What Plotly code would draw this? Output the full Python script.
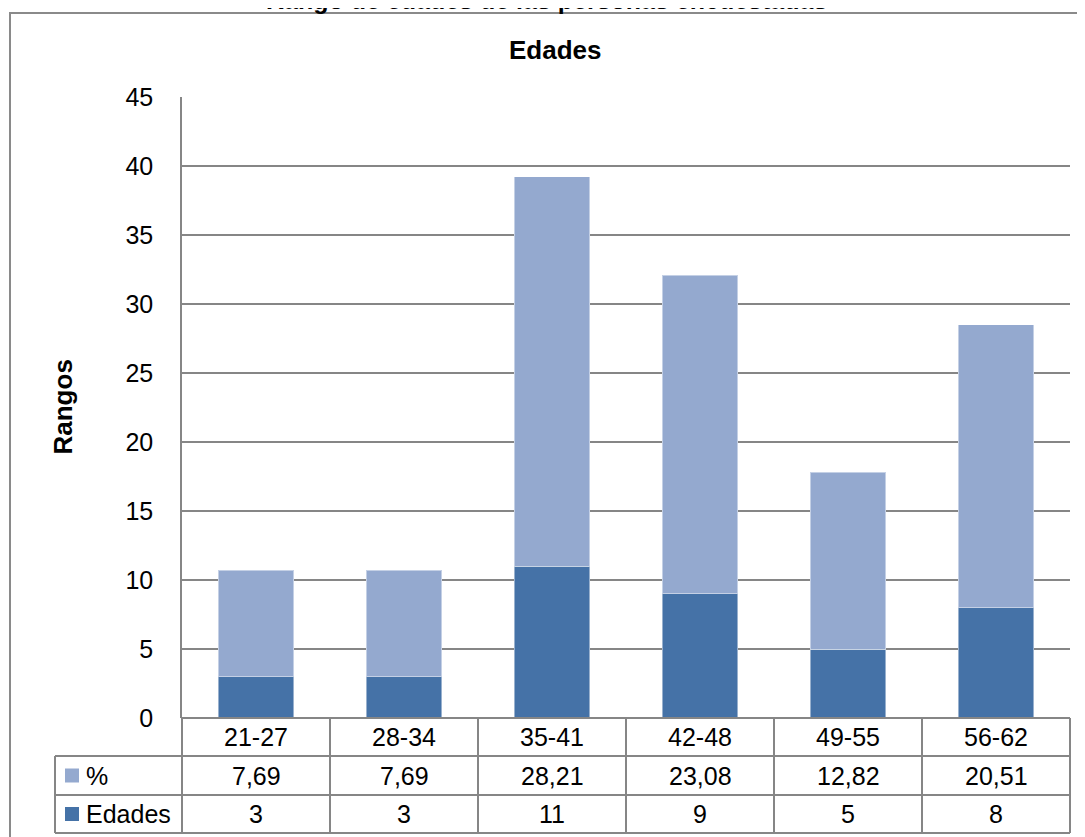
import plotly.graph_objects as go

categories = ["21-27", "28-34", "35-41", "42-48", "49-55", "56-62"]
edades = [3, 3, 11, 9, 5, 8]
pct = [7.69, 7.69, 28.21, 23.08, 12.82, 20.51]
y_ticks = [0, 5, 10, 15, 20, 25, 30, 35, 40, 45]

main_title = "Rango de edades de las personas encuestadas"
chart_title = "Edades"
y_title = "Rangos"
series_names = ["%", "Edades"]

W, H = 1085, 837
OX, OY = 8, 8  # page body offset
DARK = "#4572A7"
LIGHT = "#94A9CF"
GRID = "#868686"
FONT = "Liberation Sans, Arial, sans-serif"
FS = 25
FSB = 26


def px(x):
    return (x - OX) / W


def py(y):
    return 1 - (y - OY) / H


def fmt(v):
    return f"{v:.2f}".replace(".", ",")


fig = go.Figure()
fig.add_trace(go.Bar(x=categories, y=edades, name="Edades", marker=dict(color=DARK, line=dict(color="rgba(255,255,255,0.45)", width=1)), width=0.51))
fig.add_trace(go.Bar(x=categories, y=pct, name="%", marker=dict(color=LIGHT, line=dict(color="rgba(255,255,255,0.45)", width=1)), width=0.51))

PL, PR, PT, PB = 182, 1070, 97, 718
ROWS = [718, 756, 795, 833]
LEG_L = 55

fig.update_layout(
    template="none",
    width=W, height=H,
    margin=dict(l=0, r=0, t=0, b=0, pad=0, autoexpand=False),
    paper_bgcolor="white", plot_bgcolor="white",
    barmode="stack", showlegend=False,
    font=dict(family=FONT, size=FS, color="black"),
    xaxis=dict(domain=[px(PL), px(PR)], range=[-0.5, 5.5], showticklabels=False, automargin=False,
               showgrid=False, zeroline=False, showline=False, ticks=""),
    yaxis=dict(domain=[py(PB), py(PT)], range=[0, 45], tickvals=y_ticks, automargin=False,
               showgrid=True, gridcolor=GRID, gridwidth=1.5, zeroline=False,
               showline=True, linecolor=GRID, linewidth=1.5,
               ticks="outside", ticklen=22, tickcolor="rgba(0,0,0,0)",
               tickfont=dict(family=FONT, size=FS, color="black")),
)

shapes = []
line = dict(color=GRID, width=2)
# outer frame
shapes.append(dict(type="rect", xref="paper", yref="paper", x0=px(10), x1=1.02, y0=-0.02, y1=py(13),
                   line=dict(color="#8A8A8A", width=2), fillcolor="rgba(0,0,0,0)"))
# table horizontal lines
for i, yv in enumerate(ROWS):
    x0 = 0 if i == 0 else (LEG_L - PL) / (PR - PL)
    shapes.append(dict(type="line", xref="x domain", yref="paper", x0=x0, x1=1, y0=py(yv), y1=py(yv), line=line))
# table vertical lines at category boundaries
n = len(categories)
for i in range(n + 1):
    shapes.append(dict(type="line", xref="x domain", yref="paper", x0=i / n, x1=i / n,
                       y0=py(ROWS[0]), y1=py(ROWS[-1]), line=line))
# legend column left border
shapes.append(dict(type="line", xref="x domain", yref="paper", x0=(LEG_L - PL) / (PR - PL), x1=(LEG_L - PL) / (PR - PL),
                   y0=py(ROWS[1]), y1=py(ROWS[-1]), line=line))
# legend keys
for (yc, col) in [((ROWS[1] + ROWS[2]) / 2, LIGHT), ((ROWS[2] + ROWS[3]) / 2, DARK)]:
    shapes.append(dict(type="rect", xref="paper", yref="paper", x0=px(65), x1=px(79), y0=py(yc + 7), y1=py(yc - 7),
                       line=dict(width=0), fillcolor=col))
fig.update_layout(shapes=shapes)

ann = []
ann.append(dict(text=f"<b>{main_title}</b>", xref="paper", yref="paper", x=px(546), y=py(0), xanchor="center",
                yanchor="middle", showarrow=False, font=dict(size=FS, family=FONT)))
ann.append(dict(text=f"<b>{chart_title}</b>", xref="paper", yref="paper", x=px(555), y=py(50), xanchor="center",
                yanchor="middle", showarrow=False, font=dict(size=FSB, family=FONT)))
ann.append(dict(text=f"<b>{y_title}</b>", xref="paper", yref="paper", x=px(62), y=py((PT + PB) / 2), xanchor="center",
                yanchor="middle", textangle=-90, showarrow=False, font=dict(size=FSB, family=FONT)))
row_c = [(ROWS[i] + ROWS[i + 1]) / 2 for i in range(3)]
for i, c in enumerate(categories):
    ann.append(dict(text=c, xref="x", yref="paper", x=c, y=py(row_c[0]), showarrow=False, yanchor="middle"))
    ann.append(dict(text=fmt(pct[i]), xref="x", yref="paper", x=c, y=py(row_c[1]), showarrow=False, yanchor="middle"))
    ann.append(dict(text=str(edades[i]), xref="x", yref="paper", x=c, y=py(row_c[2]), showarrow=False, yanchor="middle"))
for name, yc in zip(series_names, row_c[1:]):
    ann.append(dict(text=name, xref="paper", yref="paper", x=px(84), y=py(yc), xanchor="left", yanchor="middle",
                    showarrow=False))
fig.update_layout(annotations=ann)

fig.write_html("out.html")
